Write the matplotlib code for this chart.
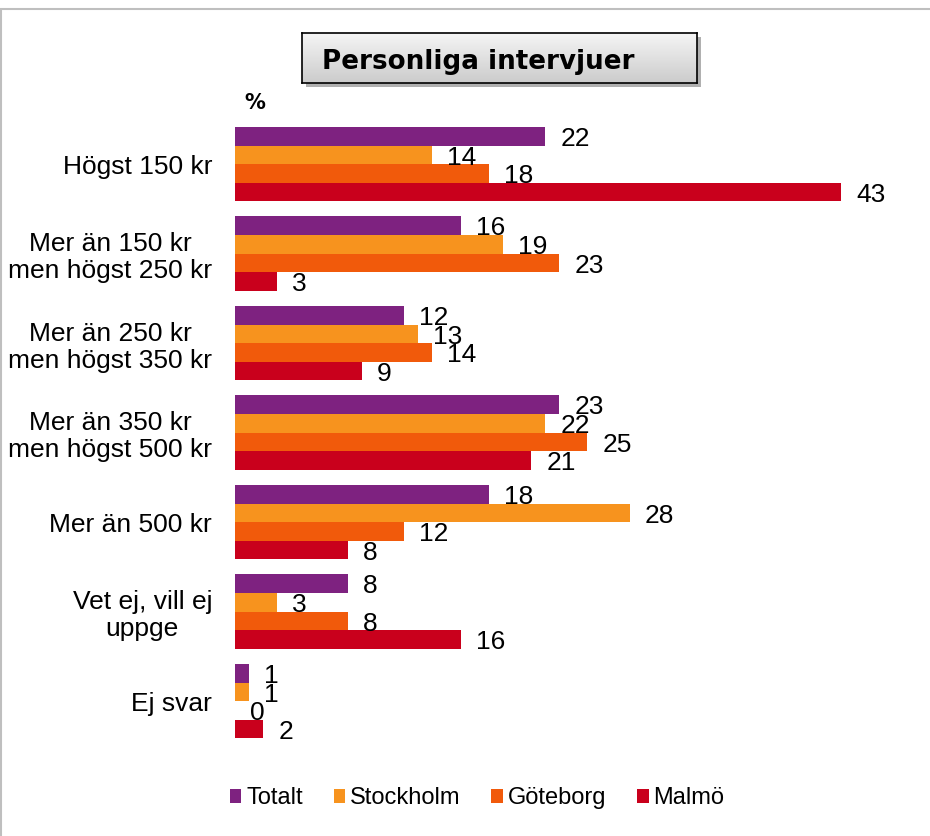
import matplotlib
matplotlib.use("Agg")
import matplotlib.pyplot as plt
import numpy as np
from matplotlib.patches import Rectangle

categories = ["Högst 150 kr", "Mer än 150 kr\nmen högst 250 kr", "Mer än 250 kr\nmen högst 350 kr",
              "Mer än 350 kr\nmen högst 500 kr", "Mer än 500 kr", "Vet ej, vill ej\nuppge", "Ej svar"]
series = ["Totalt", "Stockholm", "Göteborg", "Malmö"]
totalt = [22, 16, 12, 23, 18, 8, 1]
stockholm = [14, 19, 13, 22, 28, 3, 1]
goteborg = [18, 23, 14, 25, 12, 8, 0]
malmo = [43, 3, 9, 21, 8, 16, 2]
colors = ["#7E2280", "#F7931E", "#F15A0B", "#C9001C"]

fig = plt.figure(figsize=(9.30, 8.36), dpi=100)

# chart area border (top and left visible)
fig.patches.append(Rectangle((0.001, -0.1), 1.2, 1.089, transform=fig.transFigure,
                             fill=False, edgecolor="#BFBFBF", linewidth=1.5, zorder=-5))

ax = fig.add_axes([0.2527, 0.1077, 0.7473, 0.7494])
bh = 0.208
values = [totalt, stockholm, goteborg, malmo]
y = np.arange(len(categories))
for i, (name, vals, c) in enumerate(zip(series, values, colors)):
    pos = y - 1.5 * bh + i * bh
    ax.barh(pos, vals, height=bh, color=c, label=name)
    for p, v in zip(pos, vals):
        ax.text(v + 1.07, p + 0.03, str(v), va="center", ha="left", fontsize=19,
                family="Liberation Sans")

ax.set_xlim(0, 49.3)
ax.set_ylim(len(categories) - 0.5, -0.5)
ax.set_xticks([])
ax.set_yticks(y)
ax.set_yticklabels(categories, fontsize=19, family="Liberation Sans", linespacing=1.15)
for t in ax.get_yticklabels():
    t.set_multialignment("center")
ax.tick_params(axis="y", length=0, pad=16.5)
for s in ax.spines.values():
    s.set_visible(False)
ax.patch.set_alpha(0)

# title box with shadow and gradient
bx, by, bw, bhh = 0.3247, 0.9007, 0.4247, 0.0598
fig.patches.append(Rectangle((bx + 0.004, by - 0.005), bw, bhh, transform=fig.transFigure,
                             facecolor="#b0b0b0", edgecolor="none", zorder=-1))
tax = fig.add_axes([bx, by, bw, bhh])
grad = np.linspace(0.96, 0.80, 50).reshape(-1, 1)
tax.imshow(np.dstack([grad, grad, grad]), aspect="auto", extent=(0, 1, 0, 1))
tax.set_xticks([])
tax.set_yticks([])
for s in tax.spines.values():
    s.set_color("black")
    s.set_linewidth(1.2)
tax.text(0.05, 0.42, "Personliga intervjuer", transform=tax.transAxes, va="center",
         ha="left", fontsize=18.8, fontweight="bold", family="DejaVu Sans")

fig.text(244 / 930, 1 - 103 / 836, "%", fontsize=15, fontweight="bold", va="center",
         family="DejaVu Sans")

leg = fig.legend(loc="center", bbox_to_anchor=(0.513, 0.045), ncol=4, frameon=False,
                 prop={"family": "Liberation Sans", "size": 17}, handlelength=0.5,
                 handleheight=0.5, handletextpad=0.2, columnspacing=1.3)

fig.savefig("out.png", dpi=100)
